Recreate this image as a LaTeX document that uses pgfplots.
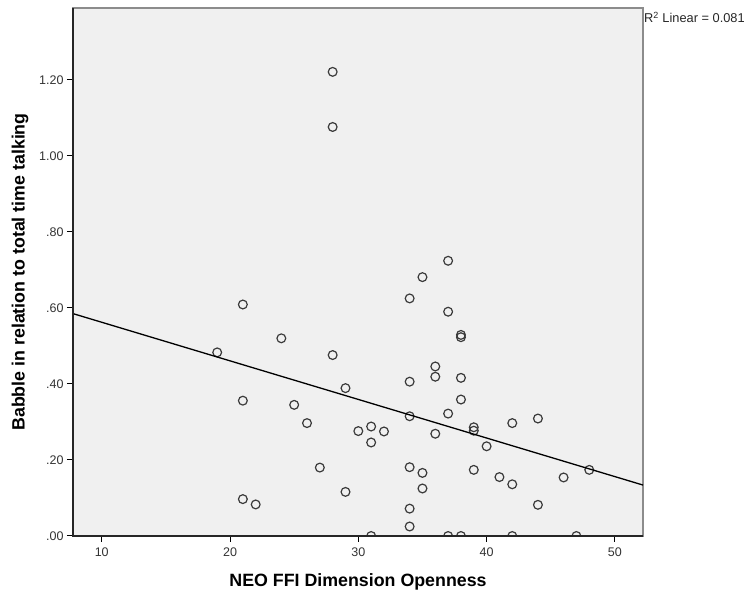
\documentclass[border=0pt]{standalone}
\usepackage{pgfplots}
\pgfplotsset{compat=1.18}
\usepackage{fontspec}
\setmainfont{Liberation Sans}
\usetikzlibrary{calc}
\definecolor{plotbg}{HTML}{F0F0F0}
\definecolor{markgray}{HTML}{3A3A3A}
\definecolor{framegray}{HTML}{8C8C8C}

\begin{document}
\begin{tikzpicture}
\begin{axis}[
  scale only axis,
  width=570pt,
  height=528pt,
  xmin=7.76, xmax=52.19,
  ymin=0, ymax=1.389,
  axis background/.style={fill=plotbg},
  axis line style={draw=framegray, line width=1.3pt},
  xtick={10,20,30,40,50},
  ytick={0,0.2,0.4,0.6,0.8,1.0,1.2},
  yticklabels={.00,.20,.40,.60,.80,1.00,1.20},
  xtick pos=bottom, ytick pos=left,
  tick align=outside,
  major tick length=6pt,
  tick style={black, line width=1pt},
  tick label style={font=\fontsize{12.5}{14}\selectfont, text=black!80},
  xticklabel style={yshift=-2.5pt},
  /pgf/number format/assume math mode=true,
  xlabel={NEO FFI Dimension Openness},
  ylabel={Babble in relation to total time talking},
  label style={font=\fontsize{17.8}{20}\selectfont\bfseries},
  xlabel style={at={(axis description cs:0.5,-0.087)}, anchor=center},
  ylabel style={at={(axis description cs:-0.093,0.5)}, anchor=center},
  clip mode=individual,
  clip marker paths=true,
]
\addplot[only marks, mark=o, mark size=4.4pt, mark options={draw=markgray, line width=1.2pt}] coordinates {
  (28,1.221) (28,1.076) (19,0.483) (21,0.609) (21,0.356) (21,0.097)
  (24,0.520) (28,0.476) (29,0.389) (25,0.345) (26,0.297) (30,0.276)
  (31,0.288) (32,0.275) (31,0.246) (27,0.180) (29,0.116) (22,0.083)
  (31,0.000) (34,0.625) (35,0.681) (37,0.724) (37,0.590) (38,0.529)
  (38,0.523) (36,0.446) (36,0.419) (38,0.416) (34,0.406) (38,0.359)
  (37,0.322) (34,0.315) (39,0.286) (39,0.277) (36,0.269) (40,0.236)
  (34,0.181) (35,0.166) (39,0.174) (35,0.125) (34,0.072) (34,0.025)
  (37,0.000) (38,0.000) (42,0.297) (44,0.309) (41,0.155) (42,0.136)
  (46,0.154) (48,0.174) (44,0.082) (42,0.000) (47,0.000)
};
\addplot[black, line width=1.3pt] coordinates {(7.76,0.585) (52.19,0.134)};
\draw[black!85, line width=1.5pt] (rel axis cs:0,1) -- (rel axis cs:0,0) -- (rel axis cs:1,0);
\coordinate (sw) at (rel axis cs:0,0);
\coordinate (ne) at (rel axis cs:1,1);
\end{axis}
\node[anchor=north west, inner sep=1pt, yshift=-3pt, font=\fontsize{12.8}{14}\selectfont, text=black!85]
  at (ne) {R\textsuperscript{2} Linear = 0.081};
\pgfresetboundingbox
\path ($(sw)+(-73pt,-58pt)$) rectangle ($(ne)+(104pt,8pt)$);
\end{tikzpicture}
\end{document}
